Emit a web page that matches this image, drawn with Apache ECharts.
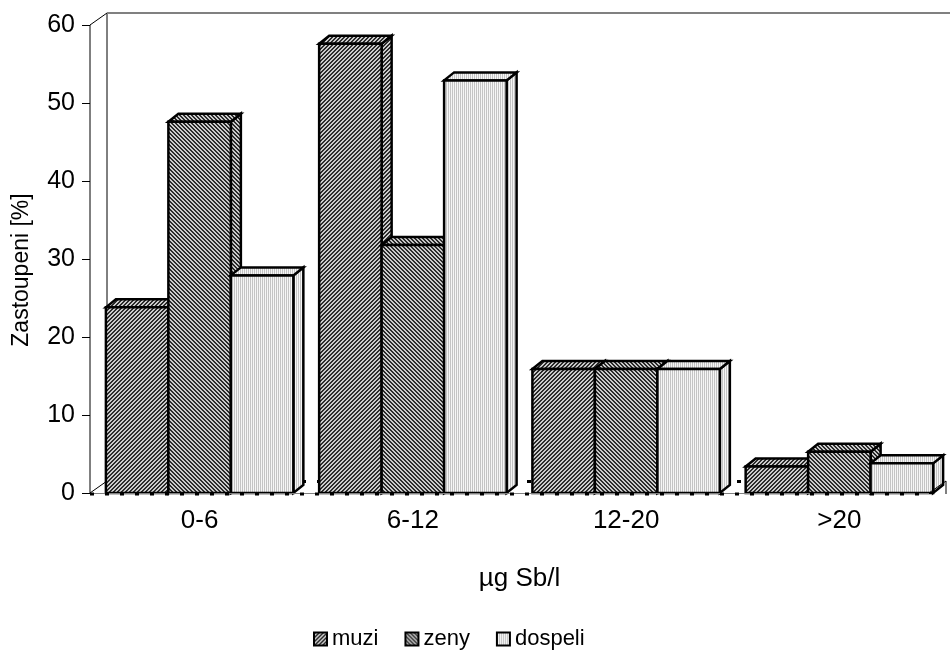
<!DOCTYPE html>
<html>
<head>
<meta charset="utf-8">
<script src="https://cdn.jsdelivr.net/npm/echarts@6/dist/echarts.min.js"></script>
<style>
  html, body { margin: 0; padding: 0; background: #fff; }
  #chart { width: 951px; height: 660px; }
</style>
</head>
<body>
<div id="chart"></div>
<script>
// Share of results per concentration class (percent)
const categories = ['0-6', '6-12', '12-20', '>20'];
const muzi = [23.8, 57.6, 15.9, 3.4];
const zeny = [47.6, 31.8, 15.9, 5.3];
const dospeli = [27.9, 52.9, 15.9, 3.8];
const seriesNames = ['muzi', 'zeny', 'dospeli'];
const yMin = 0, yMax = 60, yStep = 10;

const FONT = '"Liberation Sans", Arial, sans-serif';
const FS = 26;

// Small pixel tiles used as hatched fills
function makePattern(w, h, painter) {
  const c = document.createElement('canvas');
  c.width = w; c.height = h;
  const ctx = c.getContext('2d');
  for (let y = 0; y < h; y++) {
    for (let x = 0; x < w; x++) {
      ctx.fillStyle = painter(x, y);
      ctx.fillRect(x, y, 1, 1);
    }
  }
  return { image: c, repeat: 'repeat' };
}
const fills = [
  makePattern(4, 4, (x, y) => ((x + y) % 4 < 2 ? '#2a2a2a' : '#cacaca')),      // forward hatch
  makePattern(4, 4, (x, y) => ((x - y + 8) % 4 < 2 ? '#2a2a2a' : '#cacaca')),  // back hatch
  makePattern(2, 1, (x) => (x === 0 ? '#c4c4c4' : '#f6f6f6'))                  // light vertical lines
];

const BAR_SHARE = 0.293;      // width of one column relative to the category band
const BAR_DX = 10, BAR_DY = 8; // column depth
const WALL_DX = 17, WALL_DY = 12; // wall / floor depth

function boxRenderer(k) {
  return function (params, api) {
    const ci = api.value(0), v = api.value(1);
    const band = api.size([1, 0])[0];
    const bw = band * BAR_SHARE;
    const base = api.coord([ci, 0]);
    const top = api.coord([ci, v]);
    const x0 = base[0] - 1.5 * bw + k * bw, x1 = x0 + bw;
    const yT = top[1], yB = base[1];
    const st = { fill: fills[k], stroke: '#000', lineWidth: 2.5, lineJoin: 'miter' };
    return {
      type: 'group',
      children: [
        { type: 'polygon', shape: { points: [[x1, yT], [x1 + BAR_DX, yT - BAR_DY], [x1 + BAR_DX, yB - BAR_DY], [x1, yB]] }, style: st },
        { type: 'polygon', shape: { points: [[x0, yT], [x0 + BAR_DX, yT - BAR_DY], [x1 + BAR_DX, yT - BAR_DY], [x1, yT]] }, style: st },
        { type: 'rect', shape: { x: x0, y: yT, width: bw, height: yB - yT }, style: st }
      ]
    };
  };
}

function plotBox(api) {
  const band = api.size([1, 0])[0];
  const c0 = api.coord([0, yMin]);
  const left = c0[0] - band / 2;
  const right = left + categories.length * band;
  return { band, left, right, yB: c0[1], yT: api.coord([0, yMax])[1], ax: left - 3 };
}

// Side wall, back wall edge and rear floor edge
function frameRenderer(params, api) {
  const b = plotBox(api);
  return {
    type: 'group',
    children: [
      { type: 'polygon', shape: { points: [[b.ax, b.yT], [b.ax + WALL_DX, b.yT - WALL_DY], [b.ax + WALL_DX, b.yB - WALL_DY], [b.ax, b.yB]] },
        style: { fill: '#fff', stroke: '#000', lineWidth: 1 } },
      { type: 'line', shape: { x1: b.ax + WALL_DX, y1: b.yT - WALL_DY, x2: b.right + 4, y2: b.yT - WALL_DY },
        style: { stroke: '#808080', lineWidth: 2 } },
      { type: 'line', shape: { x1: b.ax + WALL_DX, y1: b.yB - WALL_DY + 0.5, x2: b.right, y2: b.yB - WALL_DY + 0.5 },
        style: { stroke: '#000', lineWidth: 3, lineDash: [4, 11] } },
      { type: 'line', shape: { x1: b.right, y1: b.yB - WALL_DY, x2: b.right, y2: b.yB + 1 },
        style: { stroke: '#000', lineWidth: 1 } }
    ]
  };
}

// Front floor edge, drawn over the column bases
function floorRenderer(params, api) {
  const b = plotBox(api);
  const xr = b.right - WALL_DX;
  return {
    type: 'group',
    children: [
      { type: 'line', shape: { x1: b.ax, y1: b.yB + 0.5, x2: xr, y2: b.yB + 0.5 },
        style: { stroke: '#808080', lineWidth: 1 } },
      { type: 'line', shape: { x1: b.ax, y1: b.yB + 1, x2: xr, y2: b.yB + 1 },
        style: { stroke: '#000', lineWidth: 3, lineDash: [4, 11] } },
      { type: 'line', shape: { x1: xr, y1: b.yB, x2: b.right, y2: b.yB - WALL_DY },
        style: { stroke: '#000', lineWidth: 1 } }
    ]
  };
}

const values = [muzi, zeny, dospeli];
const barSeries = seriesNames.map((name, k) => ({
  name,
  type: 'custom',
  renderItem: boxRenderer(k),
  encode: { x: 0, y: 1 },
  itemStyle: { color: fills[k], borderColor: '#000', borderWidth: 1.5 },
  data: values[k].map((v, i) => [i, v]),
  z: 3
}));

const chart = echarts.init(document.getElementById('chart'), null, { renderer: 'canvas' });
chart.setOption({
  animation: false,
  backgroundColor: '#fff',
  textStyle: { fontFamily: FONT, color: '#000' },
  grid: { left: 93, right: 5, top: 25, bottom: 167, containLabel: false },
  legend: {
    data: seriesNames,
    left: 313, top: 628,
    padding: 0,
    icon: 'rect',
    itemWidth: 13, itemHeight: 13, itemGap: 26,
    textStyle: { fontFamily: FONT, fontSize: 22, color: '#000' }
  },
  xAxis: {
    type: 'category',
    data: categories,
    boundaryGap: true,
    axisLine: { show: false },
    axisTick: { show: false },
    axisLabel: { fontFamily: FONT, fontSize: FS, color: '#000', margin: 15 },
    name: 'µg Sb/l',
    nameLocation: 'middle',
    nameGap: 73,
    nameTextStyle: { fontFamily: FONT, fontSize: FS, color: '#000' }
  },
  yAxis: {
    type: 'value',
    min: yMin, max: yMax, interval: yStep,
    offset: 3,
    axisLine: { show: true, lineStyle: { color: '#000', width: 1 } },
    axisTick: { show: true, length: 8, lineStyle: { color: '#000' } },
    axisLabel: { fontFamily: FONT, fontSize: 25, color: '#000', margin: 15 },
    splitLine: { show: false }
  },
  graphic: [{
    type: 'text',
    x: 22, y: 270,
    rotation: Math.PI / 2,
    style: { text: 'Zastoupeni [%]', font: '23px ' + FONT, fill: '#000', align: 'center', verticalAlign: 'middle' }
  }],
  series: [
    { type: 'custom', name: 'frame', renderItem: frameRenderer, data: [[0, 0]], encode: { x: 0, y: 1 }, silent: true, z: 1 },
    ...barSeries,
    { type: 'custom', name: 'floor', renderItem: floorRenderer, data: [[0, 0]], encode: { x: 0, y: 1 }, silent: true, z: 5 }
  ]
});
</script>
</body>
</html>
